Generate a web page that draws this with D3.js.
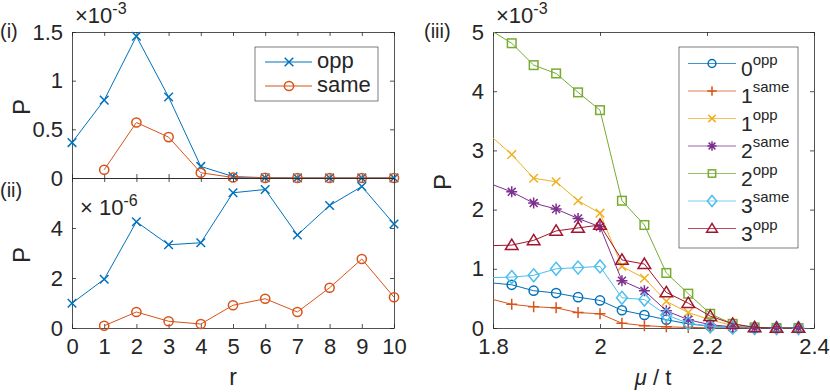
<html>
<meta charset="utf-8">
<head>
	<title>P</title>
	<script src="https://d3js.org/d3.v7.min.js"></script>
	<style>
		body { margin: 0; background: #fff; }
		text { font-family: "Liberation Sans", Arial, Helvetica, sans-serif; fill: #262626; }
	</style>
</head>
<body>
<svg id="chart" width="830" height="392"></svg>

<script>
	// panel (i) and (ii): r = 0..10
	var rVals = [0, 1, 2, 3, 4, 5, 6, 7, 8, 9, 10];
	var oppI = [0.364, 0.80, 1.456, 0.832, 0.119, 0.015, 0.003, 0.001, 0.001, 0.001, 0.001];   // x 1e-3
	var sameI = [null, 0.085, 0.57, 0.42, 0.054, 0.005, 0.001, 0, 0, 0, 0];
	var oppII = [0.99, 1.95, 4.25, 3.33, 3.41, 5.41, 5.54, 3.72, 4.90, 5.66, 4.16];           // x 1e-6
	var sameII = [null, 0.09, 0.64, 0.27, 0.16, 0.91, 1.17, 0.64, 1.61, 2.76, 1.23];

	// panel (iii): mu / t, values x 1e-3 (first point sits just left of the axis)
	var mu = [1.7938, 1.835, 1.876, 1.918, 1.959, 2.0, 2.041, 2.083, 2.124, 2.165, 2.206, 2.248, 2.289, 2.330, 2.371];
	var opp0 = [0.765, 0.73, 0.63, 0.59, 0.52, 0.465, 0.30, 0.22, 0.14, 0.07, 0.03, 0.01, 0, 0, 0];
	var same1 = [0.495, 0.40, 0.36, 0.34, 0.26, 0.24, 0.08, 0.04, 0.02, 0.01, 0.003, 0, 0, 0, 0];
	var opp1 = [3.26, 2.93, 2.53, 2.47, 2.15, 1.94, 1.04, 0.84, 0.45, 0.26, 0.14, 0.04, 0.005, 0, 0];
	var same2 = [2.44, 2.30, 2.11, 2.01, 1.85, 1.71, 0.80, 0.63, 0.29, 0.14, 0.055, 0.02, 0, 0, 0];
	var opp2 = [5.04, 4.81, 4.44, 4.30, 3.98, 3.68, 2.15, 1.74, 0.93, 0.58, 0.24, 0.07, 0.01, 0, 0];
	var same3 = [0.85, 0.86, 0.89, 1.0, 1.02, 1.04, 0.51, 0.48, 0.22, 0.08, 0.03, 0.005, 0, 0, 0];
	var opp3 = [1.39, 1.40, 1.48, 1.64, 1.69, 1.74, 1.15, 1.08, 0.60, 0.42, 0.20, 0.07, 0.01, 0, 0];

	var rTicks = [0, 1, 2, 3, 4, 5, 6, 7, 8, 9, 10];
	var yTicksI = [0, 0.5, 1, 1.5];
	var yTicksII = [0, 2, 4, 6];
	var muTicks = [1.8, 2, 2.2, 2.4];
	var yTicksIII = [0, 1, 2, 3, 4, 5];

	var series3 = [
		{ sup: "opp", num: "0", values: opp0, color: "#0072BD", marker: "o" },
		{ sup: "same", num: "1", values: same1, color: "#D95319", marker: "+" },
		{ sup: "opp", num: "1", values: opp1, color: "#EDB120", marker: "x" },
		{ sup: "same", num: "2", values: same2, color: "#7E2F8E", marker: "*" },
		{ sup: "opp", num: "2", values: opp2, color: "#77AC30", marker: "s" },
		{ sup: "same", num: "3", values: same3, color: "#4DBEEE", marker: "d" },
		{ sup: "opp", num: "3", values: opp3, color: "#A2142F", marker: "^" }
	];

	var svg = d3.select("#chart");
	var axisColor = "#262626";

	function marker (g, type, x, y, color, k) {
		k = k || 1;
		var m = g.append("g").attr("transform", "translate(" + x + "," + y + ")")
			.attr("fill", "none").attr("stroke", color).attr("stroke-width", 1.5);
		var s;
		if (type === "o") {
			m.append("circle").attr("r", 4.6 * k);
		} else if (type === "x") {
			s = 4.3 * k;
			m.append("path").attr("d", "M" + -s + "," + -s + "L" + s + "," + s + "M" + -s + "," + s + "L" + s + "," + -s);
		} else if (type === "+") {
			s = 5.5 * k;
			m.append("path").attr("d", "M" + -s + ",0L" + s + ",0M0," + -s + "L0," + s);
		} else if (type === "*") {
			s = 5.5 * k;
			var d = s * 0.72;
			m.append("path").attr("d", "M" + -s + ",0L" + s + ",0M0," + -s + "L0," + s +
				"M" + -d + "," + -d + "L" + d + "," + d + "M" + -d + "," + d + "L" + d + "," + -d);
		} else if (type === "s") {
			s = 4.3 * k;
			m.append("rect").attr("x", -s).attr("y", -s).attr("width", 2 * s).attr("height", 2 * s);
		} else if (type === "d") {
			var w = 5.5 * k, h = 6.5 * k;
			m.append("path").attr("d", "M0," + -h + "L" + w + ",0L0," + h + "L" + -w + ",0Z");
		} else if (type === "^") {
			s = 6 * k;
			m.append("path").attr("d", "M0," + (-s) + "L" + (s * 1.05) + "," + (s * 0.72) + "L" + (-s * 1.05) + "," + (s * 0.72) + "Z");
		}
	}

	// box with inward ticks on all four sides
	function frame (x, y, xTicks, yTicks, xLabels, yLabels, yFmt, xFmt) {
		var x0 = x.range()[0], x1 = x.range()[1], y0 = y.range()[0], y1 = y.range()[1];
		var g = svg.append("g");
		g.append("g").attr("transform", "translate(0," + y0 + ")")
			.call(d3.axisBottom(x).tickValues(xTicks).tickSizeInner(-4).tickSizeOuter(0).tickPadding(10)
				.tickFormat(xLabels ? xFmt : function () { return ""; }));
		g.append("g").attr("transform", "translate(0," + y1 + ")")
			.call(d3.axisTop(x).tickValues(xTicks).tickSizeInner(-4).tickSizeOuter(0).tickFormat(function () { return ""; }));
		g.append("g").attr("transform", "translate(" + x0 + ",0)")
			.call(d3.axisLeft(y).tickValues(yTicks).tickSizeInner(-4).tickSizeOuter(0).tickPadding(9)
				.tickFormat(yLabels ? yFmt : function () { return ""; }));
		g.append("g").attr("transform", "translate(" + x1 + ",0)")
			.call(d3.axisRight(y).tickValues(yTicks).tickSizeInner(-4).tickSizeOuter(0).tickFormat(function () { return ""; }));
		g.selectAll("path.domain").attr("stroke", axisColor).attr("stroke-width", 0.8);
		g.selectAll(".tick line").attr("stroke", axisColor).attr("stroke-width", 0.8);
		g.selectAll(".tick text").attr("fill", axisColor).style("font-size", "22px")
			.style("font-family", "'Liberation Sans', Arial, sans-serif");
		return g;
	}

	function drawSeries (x, y, xs, ys, color, type, clipId, markerMinX) {
		var pts = [];
		xs.forEach(function (v, i) { if (ys[i] !== null) pts.push([v, ys[i]]); });
		var g = svg.append("g");
		if (clipId) g.attr("clip-path", "url(#" + clipId + ")");
		g.append("path").datum(pts)
			.attr("fill", "none").attr("stroke", color).attr("stroke-width", 1)
			.attr("d", d3.line().x(function (p) { return x(p[0]); }).y(function (p) { return y(p[1]); }));
		var mg = svg.append("g");
		pts.forEach(function (p) {
			if (markerMinX !== undefined && p[0] < markerMinX) return;
			marker(mg, type, x(p[0]), y(p[1]), color);
		});
	}

	function exponent (xpos, ybase, sup, gap) {
		var t = svg.append("text").attr("x", xpos).attr("y", ybase).style("font-size", "22px");
		t.append("tspan").text("\u00d7" + (gap ? " " : "") + "10");
		t.append("tspan").attr("dy", -9).style("font-size", "16px").text(sup);
	}

	var fmt = function (d) { return String(d); };

	// ---- panel (i)
	var xI = d3.scaleLinear().domain([0, 10]).range([72, 394]);
	var yI = d3.scaleLinear().domain([0, 1.5]).range([178, 32]);
	frame(xI, yI, rTicks, yTicksI, false, true, fmt);
	drawSeries(xI, yI, rVals, oppI, "#0072BD", "x");
	drawSeries(xI, yI, rVals, sameI, "#D95319", "o");

	// ---- panel (ii)
	var xII = d3.scaleLinear().domain([0, 10]).range([72, 394]);
	var yII = d3.scaleLinear().domain([0, 6]).range([328, 178]);
	frame(xII, yII, rTicks, yTicksII, true, true, function (d) { return d === 6 ? "" : String(d); }, fmt);
	drawSeries(xII, yII, rVals, oppII, "#0072BD", "x");
	drawSeries(xII, yII, rVals, sameII, "#D95319", "o");

	// ---- panel (iii)
	var xIII = d3.scaleLinear().domain([1.8, 2.4]).range([493, 814]);
	var yIII = d3.scaleLinear().domain([0, 5]).range([328, 32]);
	svg.append("clipPath").attr("id", "clip3").append("rect")
		.attr("x", 493).attr("y", 32).attr("width", 321).attr("height", 296);
	frame(xIII, yIII, muTicks, yTicksIII, true, true, fmt, fmt);
	series3.forEach(function (s) {
		drawSeries(xIII, yIII, mu, s.values, s.color, s.marker, "clip3", 1.8);
	});

	// legend (i)
	svg.append("rect").attr("x", 255).attr("y", 47).attr("width", 123).attr("height", 54)
		.attr("fill", "#fff").attr("stroke", "#262626").attr("stroke-width", 0.6);
	[["opp", "#0072BD", "x", 62], ["same", "#D95319", "o", 86]].forEach(function (e) {
		svg.append("line").attr("x1", 265).attr("x2", 312).attr("y1", e[3]).attr("y2", e[3])
			.attr("stroke", e[1]).attr("stroke-width", 1);
		marker(svg, e[2], 289, e[3], e[1]);
		svg.append("text").attr("x", 317).attr("y", e[3] + 6).style("font-size", "22px").text(e[0]);
	});

	// legend (iii)
	svg.append("rect").attr("x", 679).attr("y", 47).attr("width", 119).attr("height", 201)
		.attr("fill", "#fff").attr("stroke", "#262626").attr("stroke-width", 0.6);
	series3.forEach(function (s, i) {
		var ly = 63.5 + i * 27.5;
		svg.append("line").attr("x1", 688).attr("x2", 736).attr("y1", ly).attr("y2", ly)
			.attr("stroke", s.color).attr("stroke-width", 1).attr("stroke-opacity", 0.75);
		marker(svg, s.marker, 712, ly, s.color, 0.85);
		var t = svg.append("text").attr("x", 741).attr("y", ly + 12).style("font-size", "21px");
		t.append("tspan").text(s.num);
		t.append("tspan").attr("dy", -11).style("font-size", "15px").text(s.sup);
	});

	// exponents, panel tags, axis labels
	exponent(75, 23, "-3", false);
	exponent(80, 215, "-6", true);
	exponent(496, 23, "-3", false);

	svg.append("text").attr("x", 0).attr("y", 38).style("font-size", "20px").text("(i)");
	svg.append("text").attr("x", 0).attr("y", 197).style("font-size", "20px").text("(ii)");
	svg.append("text").attr("x", 424).attr("y", 38).style("font-size", "20px").text("(iii)");

	[[30, 107], [30, 255], [451, 182]].forEach(function (p) {
		svg.append("text").attr("transform", "translate(" + p[0] + "," + p[1] + ") rotate(-90)")
			.attr("text-anchor", "middle").style("font-size", "24px").text("P");
	});
	svg.append("text").attr("x", 233).attr("y", 385).attr("text-anchor", "middle")
		.style("font-size", "23px").text("r");
	var ml = svg.append("text").attr("x", 653).attr("y", 385).attr("text-anchor", "middle").style("font-size", "22px");
	ml.append("tspan").style("font-style", "italic").text("\u03bc");
	ml.append("tspan").text(" / t");
</script>
</body>
</html>
